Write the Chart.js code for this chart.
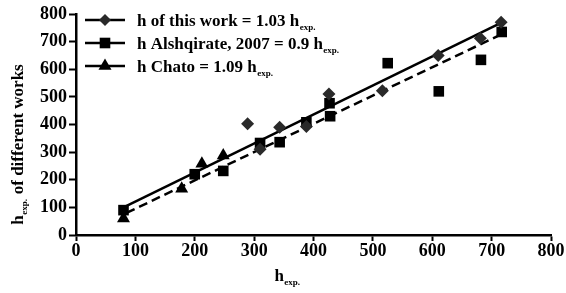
<!DOCTYPE html>
<html><head><meta charset="utf-8">
<script src="https://cdn.jsdelivr.net/npm/chart.js@4/dist/chart.umd.min.js"></script>
<style>html,body{margin:0;padding:0;background:#fff}#wrap{width:566px;height:293px;position:relative}</style>
</head><body><div id="wrap"><canvas id="c" width="566" height="293"></canvas></div>
<script>
// ---- data ----
const thisWorkX = [289, 310, 343, 388, 426, 516, 610, 681, 716];
const thisWorkY = [403, 310, 390, 393, 510, 522, 650, 712, 770];
const alshqirateX = [80, 200, 248, 310, 343, 388, 427, 428, 525, 611, 682, 717];
const alshqirateY = [90, 220, 232, 333, 336, 408, 477, 430, 622, 520, 634, 735];
const chatoX = [80, 178, 212, 248];
const chatoY = [60, 167, 258, 288];
const fitThisWorkX = [80, 720];
const fitThisWorkY = [100, 772];
const fitAlshqirateX = [85, 720];
const fitAlshqirateY = [80, 730];
const axisTicks = [0, 100, 200, 300, 400, 500, 600, 700, 800];
const legendMain = ["h of this work = 1.03 h", "h Alshqirate, 2007 = 0.9 h", "h Chato = 1.09 h"];
const legendSub = ["exp.", "exp.", "exp."];
const xTitleMain = "h", xTitleSub = "exp.";
const yTitleMain = "h", yTitleSub = "exp.", yTitleRest = " of different works";

const pts = (xs, ys) => xs.map((x, i) => ({x: x, y: ys[i]}));
const FONT = '"Liberation Serif", "Times New Roman", serif';

function drawMarker(ctx, style, x, y, r, color) {
  ctx.save();
  ctx.fillStyle = color;
  ctx.beginPath();
  if (style === 'rectRot') {
    ctx.moveTo(x, y - r); ctx.lineTo(x + r, y); ctx.lineTo(x, y + r); ctx.lineTo(x - r, y);
  } else if (style === 'rect') {
    const s = r * Math.SQRT1_2;
    ctx.rect(x - s, y - s, 2 * s, 2 * s);
  } else {
    ctx.moveTo(x, y - r); ctx.lineTo(x + r * 0.87, y + r * 0.5); ctx.lineTo(x - r * 0.87, y + r * 0.5);
  }
  ctx.closePath(); ctx.fill(); ctx.restore();
}
function subText(ctx, x, y, main, sub, rest, size, align) {
  const mf = 'bold ' + size + 'px ' + FONT, sf = 'bold ' + Math.round(size * 0.55) + 'px ' + FONT;
  ctx.font = mf; const w1 = ctx.measureText(main).width;
  ctx.font = sf; const w2 = ctx.measureText(sub).width;
  ctx.font = mf; const w3 = rest ? ctx.measureText(rest).width : 0;
  let sx = align === 'center' ? x - (w1 + w2 + w3) / 2 : x;
  ctx.textAlign = 'left'; ctx.textBaseline = 'alphabetic'; ctx.fillStyle = '#000';
  ctx.font = mf; ctx.fillText(main, sx, y);
  ctx.font = sf; ctx.fillText(sub, sx + w1 + 0.5, y + size * 0.22);
  if (rest) { ctx.font = mf; ctx.fillText(rest, sx + w1 + w2 + 1, y); }
}

const legendStyles = [['rectRot', 6, '#2a2a2a'], ['rect', 7.5, '#000'], ['triangle', 7.5, '#000']];
const legendRows = [20, 43, 66];

const annot = {
  id: 'annot',
  afterDraw(chart) {
    const ctx = chart.ctx;
    ctx.save();
    legendMain.forEach((t, i) => {
      const y = legendRows[i];
      ctx.strokeStyle = '#000'; ctx.lineWidth = 2.5;
      ctx.beginPath(); ctx.moveTo(85, y); ctx.lineTo(125, y); ctx.stroke();
      drawMarker(ctx, legendStyles[i][0], 105, y, legendStyles[i][1], legendStyles[i][2]);
      subText(ctx, 137, y + 6, t, legendSub[i], '', 17, 'left');
    });
    subText(ctx, 287, 281, xTitleMain, xTitleSub, '', 17, 'center');
    ctx.translate(23, 145); ctx.rotate(-Math.PI / 2);
    subText(ctx, 0, 0, yTitleMain, yTitleSub, yTitleRest, 17, 'center');
    ctx.restore();
  }
};

const tickFont = {family: FONT, size: 18, weight: 'bold'};
new Chart(document.getElementById('c'), {
  type: 'scatter',
  data: {
    datasets: [
      {label: 'fit this work', type: 'line', data: pts(fitThisWorkX, fitThisWorkY), borderColor: '#000', borderWidth: 2.5, pointRadius: 0, fill: false, order: 10},
      {label: 'fit Alshqirate', type: 'line', data: pts(fitAlshqirateX, fitAlshqirateY), borderColor: '#000', borderWidth: 2.5, borderDash: [9, 5], pointRadius: 0, fill: false, order: 10},
      {label: legendMain[0], data: pts(thisWorkX, thisWorkY), pointStyle: 'rectRot', pointRadius: 6.5, backgroundColor: '#2a2a2a', borderColor: '#2a2a2a', borderWidth: 0, order: 1},
      {label: legendMain[1], data: pts(alshqirateX, alshqirateY), pointStyle: 'rect', pointRadius: 7.5, backgroundColor: '#000', borderColor: '#000', borderWidth: 0, order: 1},
      {label: legendMain[2], data: pts(chatoX, chatoY), pointStyle: 'triangle', pointRadius: 7.5, backgroundColor: '#000', borderColor: '#000', borderWidth: 0, order: 1}
    ]
  },
  options: {
    responsive: false, animation: false, devicePixelRatio: 1,
    layout: {padding: {top: 14, right: 15, left: 0, bottom: 0}},
    plugins: {legend: {display: false}, tooltip: {enabled: false}},
    scales: {
      x: {
        type: 'linear', min: 0, max: 800,
        afterBuildTicks: s => { s.ticks = axisTicks.map(v => ({value: v})); },
        afterFit: s => { s.height = 58; },
        ticks: {font: tickFont, color: '#000', padding: 0, maxRotation: 0},
        grid: {display: true, drawOnChartArea: false, tickLength: 6, tickWidth: 2, tickColor: '#000'},
        border: {display: true, color: '#000', width: 2.5}
      },
      y: {
        type: 'linear', min: 0, max: 800,
        afterBuildTicks: s => { s.ticks = axisTicks.map(v => ({value: v})); },
        afterFit: s => { s.width = 76; },
        ticks: {font: tickFont, color: '#000', padding: 2},
        grid: {display: true, drawOnChartArea: false, tickLength: 7, tickWidth: 2, tickColor: '#000'},
        border: {display: true, color: '#000', width: 2.5}
      }
    }
  },
  plugins: [annot]
});
</script></body></html>
